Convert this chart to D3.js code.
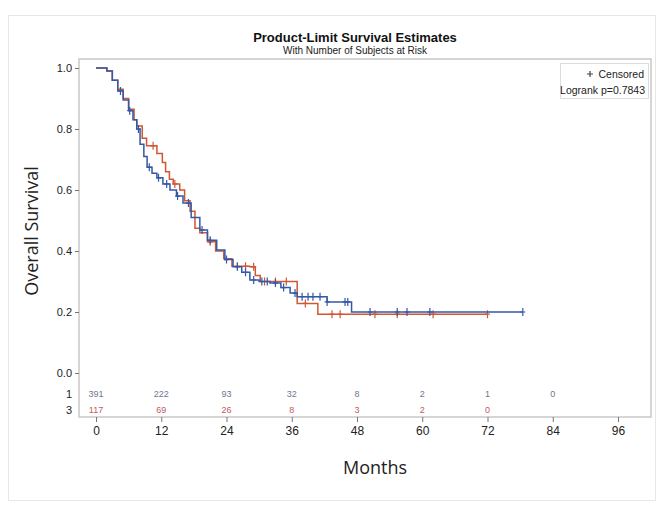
<!DOCTYPE html>
<html lang="en">
<head>
<meta charset="UTF-8">
<title>Product-Limit Survival Estimates</title>
<script src="https://d3js.org/d3.v7.min.js"></script>
<style>
    body { margin: 0; background: #fff; }
    .axis path, .axis line { stroke: #777; stroke-width: 1px; }
    .axis text { font-family: "Liberation Sans", Arial, sans-serif; font-size: 11px; fill: #222; }
    .xaxis text { font-size: 12px; }
</style>
</head>
<body>
<svg></svg>
<script>
    // step curves: time (months) and survival after each drop
    var blueTimes = [0, 2, 3, 4, 5, 6, 6.8, 7.5, 8.1, 8.8, 9.4, 10.3, 11.2, 12.3, 13.6, 14.8, 16, 17.5, 19.1,
        20.5, 22.2, 23.7, 25.2, 26.8, 28.3, 30, 32, 34, 35.7, 37, 42.5, 47];
    var blueSurv = [1.0, 0.99, 0.96, 0.925, 0.895, 0.86, 0.83, 0.80, 0.75, 0.71, 0.675, 0.655, 0.64, 0.62,
        0.60, 0.58, 0.557, 0.51, 0.469, 0.435, 0.403, 0.372, 0.348, 0.33, 0.305, 0.30, 0.295, 0.28, 0.262,
        0.25, 0.233, 0.20];
    var blueEnd = 78.5;
    var blueCensor = [4.5, 6.2, 7.8, 9.8, 11.5, 13, 15, 17, 19.5, 21, 24, 26, 27.5, 29, 30.5, 31.5, 33, 34.5,
        36.6, 37.9, 39, 39.9, 41.2, 42.5, 45.8, 46.3, 50.4, 55.4, 57.2, 61.4, 78.5];

    var redTimes = [0, 2, 3, 4, 5, 6, 7, 7.5, 8.5, 9.3, 11.2, 12.2, 12.8, 13.5, 14.2, 15.4, 16.3, 17.3, 18.2,
        19.1, 20.5, 22, 23.5, 25, 28.3, 29.3, 30.2, 37, 40.8];
    var redSurv = [1.0, 0.99, 0.96, 0.93, 0.90, 0.865, 0.83, 0.81, 0.77, 0.745, 0.72, 0.69, 0.66, 0.635, 0.62,
        0.60, 0.565, 0.53, 0.475, 0.46, 0.43, 0.40, 0.375, 0.35, 0.348, 0.32, 0.30, 0.228, 0.193];
    var redEnd = 72;
    var redCensor = [10.5, 14.5, 21, 26, 27.5, 29, 31, 33, 35, 38.5, 43.4, 44.9, 51.3, 55.4, 62, 72];

    // number at risk table
    var riskTimes = [0, 12, 24, 36, 48, 60, 72, 84];
    var riskBlue = [391, 222, 93, 32, 8, 2, 1, 0];
    var riskRed = [117, 69, 26, 8, 3, 2, 0];
    var xTicks = [0, 12, 24, 36, 48, 60, 72, 84, 96];
    var yTicks = [0, 0.2, 0.4, 0.6, 0.8, 1.0];

    var W = 660, H = 505;
    var frame = {left: 79, right: 651, top: 59, bottom: 417};
    var blue = "#3458a8", red = "#cf5733";

    var svg = d3.select("svg").attr("width", W).attr("height", H);

    // faint outer border of the screenshot
    svg.append("rect")
        .attr("x", 8.5).attr("y", 15.5).attr("width", 647).attr("height", 485)
        .style("fill", "none").style("stroke", "#e6e6e6");

    var x = d3.scaleLinear().domain([0, 96]).range([96, 618]);
    var y = d3.scaleLinear().domain([0, 1]).range([373, 68]);

    // plot frame
    svg.append("rect")
        .attr("x", frame.left).attr("y", frame.top)
        .attr("width", frame.right - frame.left).attr("height", frame.bottom - frame.top)
        .style("fill", "none").style("stroke", "#c8c8c8").style("stroke-width", 1.5);

    // axes
    var xAxis = d3.axisBottom(x).tickValues(xTicks).tickFormat(d3.format("d")).tickSize(5).tickPadding(4);
    svg.append("g").classed("axis", true).classed("xaxis", true)
        .attr("transform", "translate(0," + frame.bottom + ")")
        .call(xAxis)
        .call(function (g) { g.select(".domain").remove(); });

    var yAxis = d3.axisLeft(y).tickValues(yTicks).tickFormat(d3.format(".1f")).tickSize(4).tickPadding(3);
    svg.append("g").classed("axis", true)
        .attr("transform", "translate(" + frame.left + ",0)")
        .call(yAxis)
        .call(function (g) { g.select(".domain").remove(); });

    // step curves
    function stepPoints(times, surv, end) {
        var pts = times.map(function (t, i) { return [t, surv[i]]; });
        pts.push([end, surv[surv.length - 1]]);
        return pts;
    }
    function survAt(times, surv, t) {
        var i = d3.bisectRight(times, t) - 1;
        return surv[Math.max(0, i)];
    }
    var line = d3.line()
        .x(function (d) { return x(d[0]); })
        .y(function (d) { return y(d[1]); })
        .curve(d3.curveStepAfter);

    var groups = [
        {times: blueTimes, surv: blueSurv, end: blueEnd, censor: blueCensor, color: blue},
        {times: redTimes, surv: redSurv, end: redEnd, censor: redCensor, color: red}
    ];
    // draw red under blue
    groups.slice().reverse().forEach(function (g) {
        svg.append("path")
            .datum(stepPoints(g.times, g.surv, g.end))
            .attr("d", line)
            .style("fill", "none")
            .style("stroke", g.color)
            .style("stroke-width", 1.5);

        svg.selectAll(null)
            .data(g.censor)
            .enter()
            .append("path")
            .attr("d", function (t) {
                var cx = x(t), cy = y(survAt(g.times, g.surv, t));
                return "M" + cx + "," + (cy - 4) + "V" + (cy + 4) + "M" + (cx - 2.5) + "," + cy + "H" + (cx + 2.5);
            })
            .style("stroke", g.color)
            .style("stroke-width", 1.2)
            .style("fill", "none");
    });

    // at-risk rows
    var riskRows = [
        {label: "1", values: riskBlue, color: "#6d7890", y: 394},
        {label: "3", values: riskRed, color: "#c25a62", y: 410}
    ];
    riskRows.forEach(function (r) {
        svg.append("text")
            .attr("x", 72).attr("y", r.y + 4)
            .attr("text-anchor", "end")
            .style("font-family", "Liberation Sans, Arial, sans-serif")
            .style("font-size", "11px").style("fill", "#222")
            .text(r.label);
        svg.selectAll(null)
            .data(r.values)
            .enter()
            .append("text")
            .attr("x", function (d, i) { return x(riskTimes[i]); })
            .attr("y", r.y + 3)
            .attr("text-anchor", "middle")
            .style("font-family", "Liberation Sans, Arial, sans-serif")
            .style("font-size", "9px")
            .style("fill", r.color)
            .text(function (d) { return d; });
    });

    // titles
    svg.append("text")
        .attr("x", 355).attr("y", 42)
        .attr("text-anchor", "middle")
        .style("font-family", "Liberation Sans, Arial, sans-serif")
        .style("font-size", "13px").style("font-weight", "bold").style("fill", "#111")
        .text("Product-Limit Survival Estimates");
    svg.append("text")
        .attr("x", 355).attr("y", 54)
        .attr("text-anchor", "middle")
        .style("font-family", "Liberation Sans, Arial, sans-serif")
        .style("font-size", "10px").style("fill", "#222")
        .text("With Number of Subjects at Risk");

    // axis titles
    svg.append("text")
        .attr("transform", "translate(38,231) rotate(-90)")
        .attr("text-anchor", "middle")
        .style("font-family", "Open Sans, sans-serif")
        .style("font-size", "18px").style("fill", "#222")
        .text("Overall Survival");
    svg.append("text")
        .attr("x", 375).attr("y", 474)
        .attr("text-anchor", "middle")
        .style("font-family", "Open Sans, sans-serif")
        .style("font-size", "18px").style("fill", "#222")
        .text("Months");

    // legend box
    var lg = svg.append("g");
    lg.append("rect")
        .attr("x", 560.5).attr("y", 63.5).attr("width", 88).attr("height", 35)
        .style("fill", "#fff").style("stroke", "#dcdcdc");
    lg.append("path")
        .attr("d", "M590,71V77M587,74H593")
        .style("stroke", "#444").style("stroke-width", 1.2);
    lg.append("text")
        .attr("x", 644).attr("y", 78).attr("text-anchor", "end")
        .style("font-family", "Liberation Sans, Arial, sans-serif")
        .style("font-size", "10.5px").style("fill", "#222")
        .text("Censored");
    lg.append("text")
        .attr("x", 645).attr("y", 94).attr("text-anchor", "end")
        .style("font-family", "Liberation Sans, Arial, sans-serif")
        .style("font-size", "10.5px").style("fill", "#222")
        .text("Logrank p=0.7843");
</script>
</body>
</html>
